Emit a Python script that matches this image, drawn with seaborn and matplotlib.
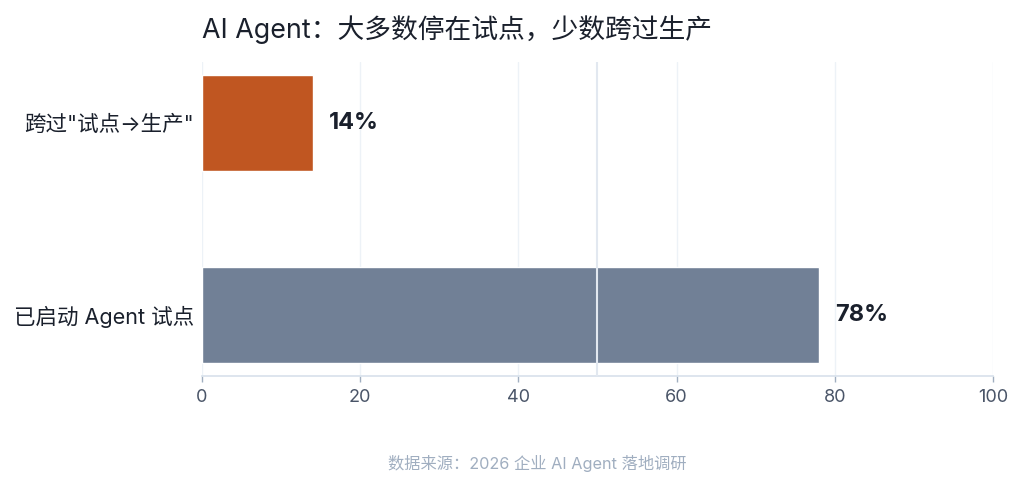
import matplotlib
matplotlib.use("Agg")
import matplotlib.pyplot as plt
import seaborn as sns
import pandas as pd

categories = ['跨过"试点→生产"', '已启动 Agent 试点']
values = [14, 78]
value_labels = ["14%", "78%"]
colors = ["#C05621", "#718096"]
xticks = [0, 20, 40, 60, 80, 100]
reference_value = 50
title = "AI Agent：大多数停在试点，少数跨过生产"
source = "数据来源：2026 企业 AI Agent 落地调研"

sns.set_theme(style="white")
plt.rcParams['font.family'] = ['Inter', 'Noto Sans CJK SC', 'DejaVu Sans']

df = pd.DataFrame({"cat": categories, "val": values})

fig = plt.figure(figsize=(10.2, 4.84), dpi=100)
ax = fig.add_axes([202/1020, 1-376/484, (993-202)/1020, (376-62)/484])

for x in xticks:
    ax.axvline(x, color="#edf2f7", lw=1, zorder=0)

sns.barplot(data=df, x="val", y="cat", hue="cat", palette=colors, legend=False,
            width=0.5, ax=ax, saturation=1, zorder=2)

ax.axvline(reference_value, color="#e2e8f0", lw=1.5, zorder=3)

for i, (v, lab) in enumerate(zip(values, value_labels)):
    ax.text(v + 2, i, lab, va="center", ha="left", fontsize=17, fontweight="bold",
            color="#1a202c")

ax.set_xlim(0, 100)
ax.set_ylim(1.318, -0.318)
ax.set_xticks(xticks)
ax.set_xlabel("")
ax.set_ylabel("")
for s in ["top", "right", "left"]:
    ax.spines[s].set_visible(False)
ax.spines["bottom"].set_color("#d9e2ec")
ax.tick_params(axis="x", colors="#a0aec0", labelcolor="#4a5568", labelsize=13,
               length=4, width=1, direction="out", bottom=True, pad=5)
ax.tick_params(axis="y", length=0, labelsize=15.5, labelcolor="#1a202c", pad=6)

fig.text(202/1020, 1-30/484, title, fontsize=19.3, color="#1a202c", va="center", ha="left")
fig.text(537/1020, 1-463/484, source, fontsize=11.7, color="#a0aec0", va="center", ha="center")

fig.savefig("out.png", dpi=100)
